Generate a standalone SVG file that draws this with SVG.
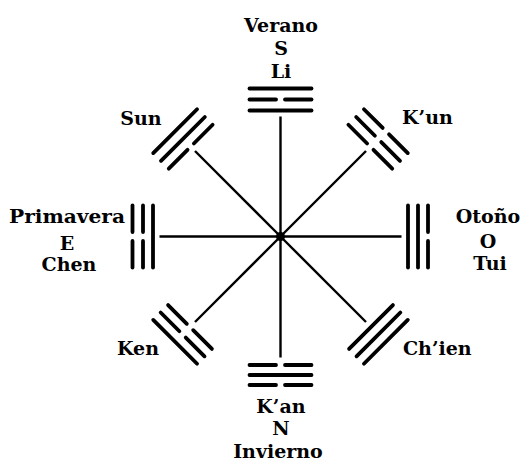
<svg xmlns="http://www.w3.org/2000/svg" xmlns:xlink="http://www.w3.org/1999/xlink" width="525" height="466" viewBox="0 0 525 466">
<style>
.lbl{font-family:"DejaVu Serif","Liberation Serif",serif;font-weight:bold;font-size:19px;fill:#000;text-anchor:middle}
.st{text-anchor:start}
.bar{stroke:#000;stroke-width:3.8;stroke-linecap:round}
.conn line{stroke:#000;stroke-width:2.4}
</style>
<defs>
<g id="yang"><line class="bar" x1="-31" y1="0" x2="31" y2="0"/></g>
<g id="yin"><line class="bar" x1="-31" y1="0" x2="-4.5" y2="0"/><line class="bar" x1="4.5" y1="0" x2="31" y2="0"/></g>
</defs>
<rect width="525" height="466" fill="#fff"/>
<g id="connectors" class="conn" transform="translate(280.5,236.5)">
<line x1="0" y1="0" x2="0" y2="-120"/>
<line x1="0" y1="0" x2="85.5" y2="-85.5"/>
<line x1="0" y1="0" x2="121" y2="0"/>
<line x1="0" y1="0" x2="85.5" y2="85.5"/>
<line x1="0" y1="0" x2="0" y2="121"/>
<line x1="0" y1="0" x2="-85.5" y2="85.5"/>
<line x1="0" y1="0" x2="-121" y2="0"/>
<line x1="0" y1="0" x2="-85.5" y2="-85.5"/>
<circle cx="0" cy="0" r="4.5" fill="#000"/>
</g>
<g id="li">
<g transform="translate(280.5,236.5) rotate(0)"><use href="#yang" y="-126"/><use href="#yin" y="-137"/><use href="#yang" y="-148"/></g>
<text class="lbl" x="281" y="32">Verano</text>
<text class="lbl" x="281" y="55">S</text>
<text class="lbl" x="281" y="78">Li</text>
</g>
<g id="kun">
<g transform="translate(280.5,236.5) rotate(45)"><use href="#yin" y="-127"/><use href="#yin" y="-138"/><use href="#yin" y="-149"/></g>
<text class="lbl st" x="402" y="124">K’un</text>
</g>
<g id="tui">
<g transform="translate(280.5,236.5) rotate(90)"><use href="#yang" y="-127.5"/><use href="#yang" y="-137.5"/><use href="#yin" y="-147.5"/></g>
<text class="lbl" x="488" y="223">Otoño</text>
<text class="lbl" x="488" y="248">O</text>
<text class="lbl" x="490" y="269.5">Tui</text>
</g>
<g id="chien">
<g transform="translate(280.5,236.5) rotate(135)"><use href="#yang" y="-128"/><use href="#yang" y="-138.5"/><use href="#yang" y="-149"/></g>
<text class="lbl st" x="403" y="355">Ch’ien</text>
</g>
<g id="kan">
<g transform="translate(280.5,236.5) rotate(180)"><use href="#yin" y="-128.5"/><use href="#yang" y="-138.5"/><use href="#yin" y="-148.5"/></g>
<text class="lbl" x="281" y="413">K’an</text>
<text class="lbl" x="281" y="435">N</text>
<text class="lbl" x="278" y="458">Invierno</text>
</g>
<g id="ken">
<g transform="translate(280.5,236.5) rotate(225)"><use href="#yin" y="-128"/><use href="#yin" y="-138.5"/><use href="#yang" y="-149"/></g>
<text class="lbl" x="138" y="355">Ken</text>
</g>
<g id="chen">
<g transform="translate(280.5,236.5) rotate(270)"><use href="#yang" y="-127.5"/><use href="#yin" y="-137.5"/><use href="#yin" y="-148"/></g>
<text class="lbl" x="67" y="223" textLength="116" lengthAdjust="spacingAndGlyphs">Primavera</text>
<text class="lbl" x="67" y="250">E</text>
<text class="lbl" x="69" y="271">Chen</text>
</g>
<g id="sun">
<g transform="translate(280.5,236.5) rotate(315)"><use href="#yin" y="-127"/><use href="#yang" y="-138"/><use href="#yang" y="-149"/></g>
<text class="lbl" x="141" y="125">Sun</text>
</g>
</svg>
